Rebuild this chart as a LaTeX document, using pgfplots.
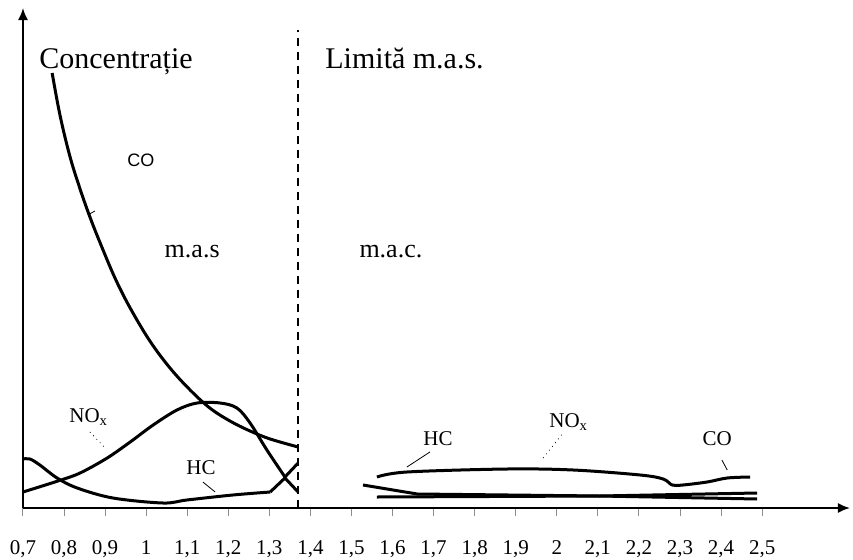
\documentclass[border=0pt]{standalone}
\usepackage{fontspec}
\setmainfont{Liberation Serif}
\newfontfamily\sansf{Liberation Sans}
\usepackage{pgfplots}
\pgfplotsset{compat=1.18}
\usetikzlibrary{arrows.meta}
\begin{document}
\begin{tikzpicture}
\useasboundingbox (-11.5pt,-25.5pt) rectangle (415pt,254pt);
\begin{axis}[
  at={(0pt,0pt)}, anchor=south west,
  scale only axis, width=413.5pt, height=250pt,
  xmin=0.7, xmax=2.714, ymin=0, ymax=500,
  axis lines=left,
  axis line style={line width=0.9pt, -{Latex[length=6pt,width=5pt]}},
  ytick=\empty,
  xtick={0.7,0.8,0.9,1.0,1.1,1.2,1.3,1.4,1.5,1.6,1.7,1.8,1.9,2.0,2.1,2.2,2.3,2.4,2.5},
  xticklabels={{0,7},{0,8},{0,9},{1},{1,1},{1,2},{1,3},{1,4},{1,5},{1,6},{1,7},{1,8},{1,9},{2},{2,1},{2,2},{2,3},{2,4},{2,5}},
  tick align=outside, major tick length=4pt,
  xtick style={black!45, line width=0.5pt},
  xticklabel style={font=\fontsize{10.5}{12}\selectfont, anchor=base, yshift=-19pt},
  clip=false,
]
% CO, rich side
\addplot[black, line width=1.5pt, smooth, tension=0.6] coordinates {
 (0.771,435) (0.790,393) (0.814,352) (0.839,319) (0.863,291) (0.888,265)
 (0.924,230) (0.961,200) (1.009,167) (1.058,140) (1.107,118) (1.155,100)
 (1.204,87) (1.253,77) (1.302,69) (1.370,61)};
% NOx, rich side
\addplot[black, line width=1.5pt, smooth, tension=0.55] coordinates {
 (0.700,16) (0.785,27) (0.839,35) (0.905,50) (0.961,66) (1.017,83) (1.075,98)
 (1.124,105) (1.180,105) (1.221,100) (1.253,85) (1.294,58) (1.338,31)};
\addplot[black, line width=1.5pt] coordinates {(1.338,31) (1.370,45)};
% HC, rich side
\addplot[black, line width=1.5pt, smooth, tension=0.55] coordinates {
 (0.700,49) (0.717,49) (0.741,43) (0.783,30) (0.832,20) (0.919,10)
 (1.041,5) (1.099,8) (1.211,13) (1.302,16)};
\addplot[black, line width=1.5pt] coordinates {(1.302,16) (1.338,30) (1.370,16)};
% lean side
\addplot[black, line width=1.5pt, smooth, tension=0.55] coordinates {
 (1.562,31) (1.635,36) (1.879,39) (2.040,38) (2.203,33) (2.259,29)
 (2.281,23) (2.307,23) (2.366,26) (2.415,30) (2.471,31)};
\addplot[black, line width=1.5pt] coordinates {
 (1.528,23) (1.660,14) (2.105,12) (2.488,9)};
\addplot[black, line width=1.5pt] coordinates {
 (1.562,11) (2.105,12) (2.488,15)};
% boundary
\addplot[black, line width=1pt, dash pattern=on 4pt off 3pt] coordinates {(1.370,0) (1.370,478)};
% leader lines
\draw[black, line width=0.4pt] (axis cs:0.858,293) -- (axis cs:0.875,297);
\draw[black, line width=0.4pt, dotted] (axis cs:0.863,76) -- (axis cs:0.900,60);
\draw[black, line width=0.4pt] (axis cs:1.138,26) -- (axis cs:1.168,16);
\draw[black, line width=0.4pt] (axis cs:1.635,41) -- (axis cs:1.691,56);
\draw[black, line width=0.4pt, dotted] (axis cs:1.967,50) -- (axis cs:2.015,75);
\draw[black, line width=0.4pt] (axis cs:2.402,48) -- (axis cs:2.415,38);
% texts
\node[anchor=base west, inner sep=0pt, font=\fontsize{15}{18}\selectfont] at (axis cs:0.739,440) {Concentrație};
\node[anchor=base west, inner sep=0pt, font=\fontsize{15}{18}\selectfont] at (axis cs:1.4355,440) {Limită m.a.s.};
\node[inner sep=0pt, font=\sansf\fontsize{9}{11}\selectfont] at (axis cs:0.987,348) {CO};
\node[anchor=base, inner sep=0pt, font=\fontsize{13}{15}\selectfont] at (axis cs:1.112,251) {m.a.s};
\node[anchor=base, inner sep=0pt, font=\fontsize{13}{15}\selectfont] at (axis cs:1.596,251) {m.a.c.};
\node[anchor=base west, inner sep=0pt, font=\fontsize{10.5}{12}\selectfont] at (axis cs:0.812,86) {NO\textsubscript{x}};
\node[anchor=base west, inner sep=0pt, font=\fontsize{10.5}{12}\selectfont] at (axis cs:1.097,34) {HC};
\node[anchor=base west, inner sep=0pt, font=\fontsize{10.5}{12}\selectfont] at (axis cs:1.674,63) {HC};
\node[anchor=base west, inner sep=0pt, font=\fontsize{10.5}{12}\selectfont] at (axis cs:1.981,81) {NO\textsubscript{x}};
\node[anchor=base west, inner sep=0pt, font=\fontsize{10.5}{12}\selectfont] at (axis cs:2.354,63) {CO};
\end{axis}
\end{tikzpicture}
\end{document}
